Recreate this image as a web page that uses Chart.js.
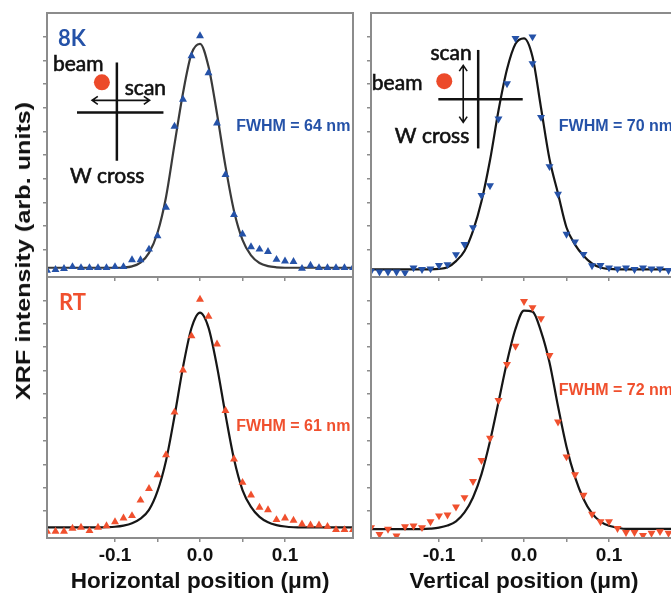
<!DOCTYPE html>
<html>
<head>
<meta charset="utf-8">
<script src="https://cdn.jsdelivr.net/npm/chart.js@4.4.0/dist/chart.umd.min.js"></script>
<style>
  body { margin: 0; background: #fff; overflow: hidden; }
  #fig { position: relative; width: 671px; height: 594px; overflow: hidden; }
  canvas { position: absolute; }
  #ytitle {
    position: absolute; left: 23px; top: 251px;
    transform: translate(-50%, -50%) rotate(-90deg) scale(1.2, 1);
    font: bold 21px "Liberation Sans", Arial, sans-serif;
    white-space: nowrap; color: #111;
  }
</style>
</head>
<body>
<div id="fig">
  <canvas id="tl" width="365" height="290" style="left:0;top:0"></canvas>
  <canvas id="tr" width="316" height="290" style="left:366px;top:0"></canvas>
  <canvas id="bl" width="365" height="323" style="left:0;top:271px"></canvas>
  <canvas id="br" width="316" height="323" style="left:366px;top:271px"></canvas>
  <div id="ytitle">XRF intensity (arb. units)</div>
</div>
<script>
// scan positions (µm)
const scanPos = [-0.18, -0.17, -0.16, -0.15, -0.14, -0.13, -0.12, -0.11, -0.10, -0.09,
  -0.08, -0.07, -0.06, -0.05, -0.04, -0.03, -0.02, -0.01, 0.00, 0.01, 0.02, 0.03, 0.04,
  0.05, 0.06, 0.07, 0.08, 0.09, 0.10, 0.11, 0.12, 0.13, 0.14, 0.15, 0.16, 0.17, 0.18];
// the 8K vertical scan has two points read at 0.01 and none at 0.00
const scanPosV8K = [-0.18, -0.17, -0.16, -0.15, -0.14, -0.13, -0.12, -0.11, -0.10, -0.09,
  -0.08, -0.07, -0.06, -0.05, -0.04, -0.03, -0.02, -0.01, 0.01, 0.01, 0.02, 0.03, 0.04,
  0.05, 0.06, 0.07, 0.08, 0.09, 0.10, 0.11, 0.12, 0.13, 0.14, 0.15, 0.16, 0.17, 0.18];

const majorTicks = [-0.1, 0.0, 0.1];

// measured XRF intensity
const hor8K = [0.013, 0.016, 0.020, 0.028, 0.024, 0.024, 0.024, 0.024, 0.028, 0.028,
  0.057, 0.057, 0.102, 0.158, 0.279, 0.621, 0.735, 0.919, 1.003, 0.847, 0.635, 0.417, 0.248,
  0.166, 0.112, 0.102, 0.092, 0.059, 0.052, 0.050, 0.021, 0.034, 0.024, 0.024, 0.024, 0.024, 0.024];
const ver8K = [0.010, 0.007, 0.007, 0.007, 0.003, 0.024, 0.017, 0.020, 0.034, 0.038,
  0.080, 0.123, 0.194, 0.330, 0.371, 0.653, 0.802, 0.993, 1.000, 0.887, 0.660, 0.452, 0.335,
  0.166, 0.134, 0.081, 0.033, 0.034, 0.024, 0.020, 0.024, 0.017, 0.024, 0.020, 0.020, 0.013, 0.017];
const horRT = [0.013, 0.013, 0.013, 0.026, 0.030, 0.016, 0.030, 0.037, 0.054, 0.070,
  0.080, 0.146, 0.196, 0.254, 0.340, 0.522, 0.702, 0.848, 1.004, 0.932, 0.813, 0.529, 0.322,
  0.222, 0.168, 0.116, 0.105, 0.063, 0.070, 0.060, 0.044, 0.040, 0.040, 0.034, 0.020, 0.020, 0.020];
const verRT = [0.030, 0.001, 0.023, -0.006, 0.034, 0.037, 0.030, 0.055, 0.080, 0.084,
  0.118, 0.158, 0.227, 0.317, 0.412, 0.573, 0.727, 0.805, 0.996, 0.970, 0.923, 0.765, 0.481,
  0.332, 0.256, 0.168, 0.087, 0.055, 0.055, 0.026, 0.009, 0.009, -0.003, 0.006, 0.013, 0.006, 0.010];

// fitted curves at each scan position
const fit8KH = [0.024, 0.024, 0.024, 0.024, 0.024, 0.024, 0.024, 0.024, 0.024, 0.025,
  0.030, 0.046, 0.087, 0.172, 0.322, 0.545, 0.762, 0.928, 0.970, 0.874, 0.675, 0.452, 0.264,
  0.142, 0.076, 0.044, 0.031, 0.026, 0.024, 0.024, 0.024, 0.024, 0.024, 0.024, 0.024, 0.024, 0.024];
const fit8KV = [0.017, 0.017, 0.017, 0.017, 0.017, 0.017, 0.017, 0.017, 0.019, 0.026,
  0.052, 0.095, 0.180, 0.305, 0.478, 0.688, 0.862, 0.970, 0.993, 0.915, 0.700, 0.483, 0.338,
  0.194, 0.122, 0.075, 0.042, 0.025, 0.019, 0.017, 0.017, 0.017, 0.017, 0.017, 0.017, 0.017, 0.017];
const fitRTH = [0.030, 0.030, 0.030, 0.030, 0.030, 0.030, 0.030, 0.031, 0.033, 0.038,
  0.048, 0.068, 0.105, 0.185, 0.315, 0.505, 0.715, 0.882, 0.948, 0.884, 0.718, 0.512, 0.322,
  0.190, 0.118, 0.075, 0.052, 0.040, 0.034, 0.031, 0.030, 0.030, 0.030, 0.030, 0.030, 0.030, 0.030];
const fitRTV = [0.023, 0.023, 0.023, 0.023, 0.023, 0.023, 0.023, 0.025, 0.029, 0.038,
  0.056, 0.094, 0.158, 0.258, 0.398, 0.566, 0.737, 0.878, 0.956, 0.952, 0.868, 0.735, 0.548,
  0.375, 0.245, 0.152, 0.090, 0.055, 0.037, 0.029, 0.024, 0.024, 0.024, 0.024, 0.024, 0.024, 0.024];

const blue = '#2552a8';
const red = '#f0502e';
const sans = '"Liberation Sans", Arial, sans-serif';
const sketchFont = '21px Lato, "Open Sans", sans-serif';

Chart.defaults.font.family = sans;

// frame, labels and the little beam / W cross sketch
function decor(labels, sketch) {
  return {
    id: 'decor',
    afterDatasetsDraw(chart) {
      const { ctx, chartArea: a, scales: { x, y } } = chart;
      const px = v => x.getPixelForValue(v);
      const py = v => y.getPixelForValue(v);
      ctx.save();
      ctx.strokeStyle = '#8c8c8c';
      ctx.lineWidth = 2;
      ctx.strokeRect(a.left, a.top, a.right - a.left, a.bottom - a.top);

      labels.forEach(l => {
        ctx.font = l.font;
        ctx.fillStyle = l.color;
        ctx.textAlign = 'left';
        ctx.textBaseline = 'middle';
        ctx.fillText(l.text, px(l.x), py(l.y));
        if (l.heavy) {
          ctx.strokeStyle = l.color;
          ctx.lineWidth = 0.6;
          ctx.strokeText(l.text, px(l.x), py(l.y));
        }
      });

      if (sketch) {
        ctx.strokeStyle = '#111';
        ctx.lineWidth = 2.5;
        sketch.lines.forEach(([x1, y1, x2, y2]) => {
          ctx.beginPath();
          ctx.moveTo(px(x1), py(y1));
          ctx.lineTo(px(x2), py(y2));
          ctx.stroke();
        });
        // double-headed arrow
        const [x1, y1, x2, y2] = sketch.arrow;
        const p1 = [px(x1), py(y1)], p2 = [px(x2), py(y2)];
        ctx.lineWidth = 1.6;
        ctx.beginPath();
        ctx.moveTo(p1[0], p1[1]);
        ctx.lineTo(p2[0], p2[1]);
        const ang = Math.atan2(p2[1] - p1[1], p2[0] - p1[0]);
        [[p2, ang], [p1, ang + Math.PI]].forEach(([p, t]) => {
          ctx.moveTo(p[0] - 7 * Math.cos(t - 0.6), p[1] - 7 * Math.sin(t - 0.6));
          ctx.lineTo(p[0], p[1]);
          ctx.lineTo(p[0] - 7 * Math.cos(t + 0.6), p[1] - 7 * Math.sin(t + 0.6));
        });
        ctx.stroke();
        // beam spot
        ctx.fillStyle = '#ec4a2a';
        ctx.beginPath();
        ctx.arc(px(sketch.dot[0]), py(sketch.dot[1]), 8, 0, Math.PI * 2);
        ctx.fill();
      }
      ctx.restore();
    }
  };
}

function makePanel(id, p) {
  const tickGrid = { drawOnChartArea: false, tickLength: 4, color: '#8c8c8c', lineWidth: 1.5 };
  new Chart(document.getElementById(id), {
    type: 'scatter',
    data: {
      datasets: [
        {
          data: p.pos.map((v, i) => ({ x: v, y: p.values[i] })),
          pointStyle: 'triangle',
          pointRotation: p.rotation,
          pointRadius: 4.6,
          backgroundColor: p.color,
          borderWidth: 0
        },
        {
          data: scanPos.map((v, i) => ({ x: v, y: p.fit[i] })),
          showLine: true,
          borderColor: p.fitColor,
          borderWidth: 2.2,
          pointRadius: 0,
          cubicInterpolationMode: 'monotone'
        }
      ]
    },
    options: {
      responsive: false,
      animation: false,
      devicePixelRatio: 1,
      layout: { padding: { top: p.top, right: p.right, left: 0, bottom: 0 } },
      plugins: { legend: { display: false }, tooltip: { enabled: false } },
      scales: {
        x: {
          min: -0.18, max: 0.18,
          afterBuildTicks: s => { s.ticks = s.ticks.filter(t => t.value > -0.179 && t.value < 0.179); },
          afterFit: s => { s.height = p.xHeight; },
          ticks: {
            stepSize: 0.05,
            display: !!p.title,
            autoSkip: false,
            maxRotation: 0,
            padding: 2,
            color: '#111',
            font: { size: 19, weight: 'bold' },
            callback: v => {
              const m = majorTicks.find(t => Math.abs(t - v) < 1e-6);
              return m === undefined ? '' : m.toFixed(1);
            }
          },
          grid: tickGrid,
          border: { display: false },
          title: {
            display: !!p.title,
            text: p.title,
            color: '#111',
            font: { size: 22.5, weight: 'bold', lineHeight: 1 },
            padding: { top: 0, bottom: 1 }
          }
        },
        y: {
          min: -0.015, max: 1.1,
          afterBuildTicks: s => { s.ticks = s.ticks.filter(t => t.value > -0.001 && t.value < 1.001); },
          afterFit: s => { s.width = p.yWidth; },
          ticks: { stepSize: 0.1, display: false },
          grid: tickGrid,
          border: { display: false }
        }
      }
    },
    plugins: [decor(p.labels, p.sketch)]
  });
}

makePanel('tl', {
  pos: scanPos, values: hor8K, fit: fit8KH, color: blue, rotation: 0, fitColor: '#3a3a3a',
  top: 13, right: 12, yWidth: 47, xHeight: 13,
  labels: [
    { text: '8K', x: -0.167, y: 0.989, font: 'bold 22px Lato, sans-serif', color: blue },
    { text: 'beam', x: -0.173, y: 0.884, font: sketchFont, color: '#111', heavy: true },
    { text: 'scan', x: -0.0885, y: 0.782, font: sketchFont, color: '#111', heavy: true },
    { text: 'W cross', x: -0.153, y: 0.409, font: sketchFont, color: '#111', heavy: true },
    { text: 'FWHM = 64 nm', x: 0.0425, y: 0.619, font: 'bold 16px ' + sans, color: blue }
  ],
  sketch: {
    lines: [[-0.0978, 0.891, -0.0978, 0.476], [-0.1447, 0.68, -0.043, 0.68]],
    arrow: [-0.127, 0.731, -0.0593, 0.731],
    dot: [-0.1154, 0.807]
  }
});

makePanel('tr', {
  pos: scanPosV8K, values: ver8K, fit: fit8KV, color: blue, rotation: 180, fitColor: '#161616',
  top: 13, right: 5, yWidth: 5, xHeight: 13,
  labels: [
    { text: 'scan', x: -0.110, y: 0.931, font: sketchFont, color: '#111', heavy: true },
    { text: 'beam', x: -0.179, y: 0.803, font: sketchFont, color: '#111', heavy: true },
    { text: 'W cross', x: -0.152, y: 0.579, font: sketchFont, color: '#111', heavy: true },
    { text: 'FWHM = 70 nm', x: 0.041, y: 0.619, font: 'bold 16px ' + sans, color: blue }
  ],
  sketch: {
    lines: [[-0.0539, 0.944, -0.0539, 0.528], [-0.1008, 0.736, -0.0015, 0.736]],
    arrow: [-0.0715, 0.879, -0.0715, 0.638],
    dot: [-0.0938, 0.812]
  }
});

makePanel('bl', {
  pos: scanPos, values: horRT, fit: fitRTH, color: red, rotation: 0, fitColor: '#161616',
  top: 6, right: 12, yWidth: 47, xHeight: 56, title: 'Horizontal position (\u03bcm)',
  labels: [
    { text: 'RT', x: -0.166, y: 0.990, font: 'bold 22px Lato, sans-serif', color: red },
    { text: 'FWHM = 61 nm', x: 0.0425, y: 0.459, font: 'bold 16px ' + sans, color: red }
  ]
});

makePanel('br', {
  pos: scanPos, values: verRT, fit: fitRTV, color: red, rotation: 180, fitColor: '#161616',
  top: 6, right: 5, yWidth: 5, xHeight: 56, title: 'Vertical position (\u03bcm)',
  labels: [
    { text: 'FWHM = 72 nm', x: 0.041, y: 0.613, font: 'bold 16px ' + sans, color: red }
  ]
});
</script>
</body>
</html>
